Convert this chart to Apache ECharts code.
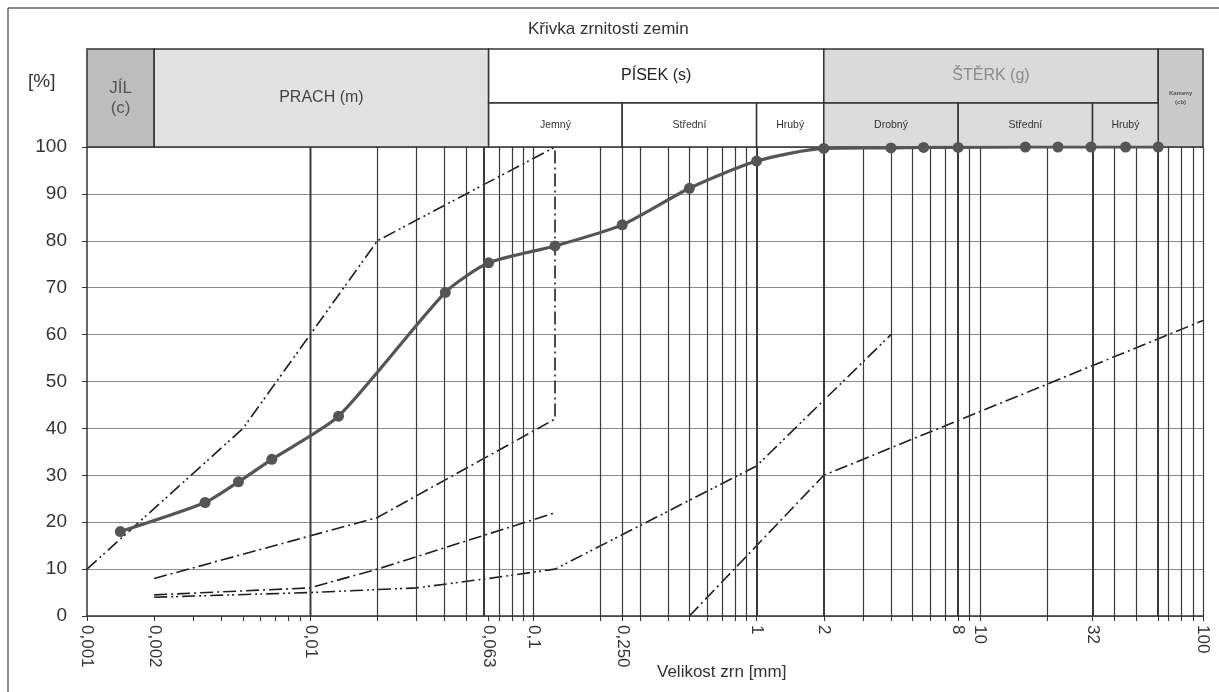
<!DOCTYPE html>
<html><head><meta charset="utf-8">
<script src="https://cdn.jsdelivr.net/npm/echarts@6/dist/echarts.min.js"></script>
<style>html,body{margin:0;padding:0;background:#fff}#c{width:1219px;height:692px}</style>
</head><body><div id="c"></div>
<script>
// ---------------- data ----------------
// measured grading curve
const grainSize = [0.00141, 0.00338, 0.00477, 0.00673, 0.0134, 0.0403, 0.063, 0.125, 0.25, 0.5, 1, 2, 4, 5.6, 8, 16, 22.4, 31.5, 45, 63];
const passing   = [18.0, 24.2, 28.6, 33.4, 42.6, 69.0, 75.3, 78.9, 83.4, 91.2, 97.0, 99.7, 99.8, 99.9, 99.9, 100, 100, 100, 100, 100];
// limit (envelope) curves
const limA_x = [0.001, 0.005, 0.02, 0.125];
const limA_y = [10, 40, 80, 100];
const limB_x = [0.002, 0.02, 0.125, 0.125];
const limB_y = [8, 21, 42, 100];
const limD_x = [0.002, 0.01, 0.02, 0.125];
const limD_y = [4.5, 6, 10, 22];
const limE_x = [0.002, 0.01, 0.03, 0.063, 0.125, 1, 4];
const limE_y = [4, 5, 6, 8, 10, 32, 60];
const limF_x = [0.5, 2, 100];
const limF_y = [0, 30, 63];
// axis labels
const xLabelValues = [0.001, 0.002, 0.01, 0.063, 0.1, 0.25, 1, 2, 8, 10, 32, 100];
const xLabelTexts  = ['0,001', '0,002', '0,01', '0,063', '0,1', '0,250', '1', '2', '8', '10', '32', '100'];
// soil fraction header
const zoneNames = ['JÍL\n(c)', 'PRACH (m)', 'PÍSEK (s)', 'ŠTĚRK (g)', 'Kameny\n(cb)'];
const zoneFrom  = [0.001, 0.002, 0.063, 2, 63];
const zoneTo    = [0.002, 0.063, 2, 63, 100];
const subNames  = ['Jemný', 'Střední', 'Hrubý', 'Drobný', 'Střední', 'Hrubý'];
const subFrom   = [0.063, 0.25, 1, 2, 8, 32];
const subTo     = [0.25, 1, 2, 8, 32, 63];

// ---------------- chart ----------------
const FONT = '"Liberation Sans", Arial, sans-serif';
const gridVals = [];
for (let k = -3; k <= 1; k++) {
  for (let m = 1; m <= 9; m++) {
    let v = +(m * Math.pow(10, k)).toPrecision(6);
    if (k === -2 && m === 6) v = 0.063;
    if (k === 1 && m === 3) v = 32;
    if (k === 1 && m === 6) v = 63;
    gridVals.push(v);
  }
}
gridVals.push(0.25, 100);
const heavy = [0.002, 0.063, 1, 2, 8, 32, 63];

const zoneFill = ['#bdbdbd', '#e2e2e2', '#ffffff', '#dadada', '#cacaca'];
const zoneText = ['#555', '#444', '#222', '#8a8a8a', '#555'];
const zoneSize = [17, 16, 16, 16, 6];
const subFill  = ['#fff', '#fff', '#fff', '#dcdcdc', '#dcdcdc', '#dcdcdc'];

function pair(xs, ys) { return xs.map((x, i) => [x, ys[i]]); }
function limSeries(xs, ys, dash) {
  return { type: 'line', xAxisIndex: 0, yAxisIndex: 0, data: pair(xs, ys), symbol: 'none',
    smooth: false, silent: true, z: 3,
    lineStyle: { color: '#1e1e1e', width: 1.6, type: dash } };
}
const DASH_DOT = [13, 4, 2, 4];
const DASH_DOT_DOT = [13, 4, 2, 3, 2, 4];

const chart = echarts.init(document.getElementById('c'), null, { renderer: 'canvas' });
chart.setOption({
  animation: false,
  backgroundColor: '#fff',
  title: [
    { text: 'Křivka zrnitosti zemin', left: 528, top: 21, padding: 0,
      textStyle: { fontFamily: FONT, fontSize: 17, fontWeight: 'normal', color: '#333' } },
    { text: '[%]', left: 28, top: 72, padding: 0,
      textStyle: { fontFamily: FONT, fontSize: 19, fontWeight: 'normal', color: '#333' } },
    { text: 'Velikost zrn [mm]', left: 657, top: 664, padding: 0,
      textStyle: { fontFamily: FONT, fontSize: 17, fontWeight: 'normal', color: '#333' } }
  ],
  graphic: [
    { type: 'line', shape: { x1: 8, y1: 8, x2: 1219, y2: 8 }, style: { stroke: '#666', lineWidth: 1.5 } },
    { type: 'line', shape: { x1: 8, y1: 8, x2: 8, y2: 692 }, style: { stroke: '#666', lineWidth: 1.5 } }
  ],
  grid: [
    { left: 87, right: 16, top: 147, bottom: 76, containLabel: false },
    { left: 87, right: 16, top: 49, height: 98, containLabel: false }
  ],
  xAxis: [
    { type: 'log', logBase: 10, min: 0.001, max: 100, gridIndex: 0,
      axisLine: { show: true, lineStyle: { color: '#333', width: 1.5 } },
      axisTick: { show: true, inside: false, length: 5, customValues: gridVals, lineStyle: { color: '#333' } },
      splitLine: { show: false },
      axisLabel: { show: true, customValues: xLabelValues, rotate: -90, margin: 9,
        fontFamily: FONT, fontSize: 17, color: '#333',
        formatter: function (v) {
          let best = 0;
          xLabelValues.forEach((x, i) => { if (Math.abs(Math.log10(x) - Math.log10(v)) < Math.abs(Math.log10(xLabelValues[best]) - Math.log10(v))) best = i; });
          return xLabelTexts[best];
        } } },
    { type: 'log', logBase: 10, min: 0.001, max: 100, gridIndex: 1, show: false }
  ],
  yAxis: [
    { type: 'value', min: 0, max: 100, interval: 10, gridIndex: 0,
      axisLine: { show: true, lineStyle: { color: '#333', width: 1.5 } },
      axisTick: { show: true, length: 5, lineStyle: { color: '#333' } },
      axisLabel: { margin: 20, fontFamily: FONT, fontSize: 19, color: '#333' },
      splitLine: { show: true, lineStyle: { color: '#8c8c8c', width: 1.2 } } },
    { type: 'value', min: 0, max: 100, gridIndex: 1, show: false }
  ],
  series: [
    { type: 'line', xAxisIndex: 0, yAxisIndex: 0, data: [[0.001, 0]], symbol: 'none', silent: true, z: 1,
      lineStyle: { opacity: 0 },
      markLine: { silent: true, symbol: ['none', 'none'], label: { show: false }, animation: false,
        data: gridVals.map(v => ({ xAxis: v, lineStyle: { color: '#3a3a3a', type: 'solid', width: heavy.includes(v) ? 2 : 1.2 } })) } },
    { type: 'custom', xAxisIndex: 1, yAxisIndex: 1, silent: true, z: 5,
      data: zoneFrom.map((f, i) => [f, zoneTo[i]]), encode: { x: [0, 1] },
      renderItem: function (params, api) {
        const i = params.dataIndex;
        const split = (i === 2 || i === 3);
        const p0 = api.coord([zoneFrom[i], split ? 45 : 0]);
        const p1 = api.coord([zoneTo[i], 100]);
        return { type: 'group', children: [
          { type: 'rect', shape: { x: p0[0], y: p1[1], width: p1[0] - p0[0], height: p0[1] - p1[1] },
            style: { fill: zoneFill[i], stroke: '#333', lineWidth: 1.5 } },
          { type: 'text', style: { text: zoneNames[i], x: (p0[0] + p1[0]) / 2, y: (p0[1] + p1[1]) / 2,
            align: 'center', verticalAlign: 'middle', fill: zoneText[i],
            fontSize: zoneSize[i], fontFamily: FONT, fontWeight: i === 4 ? 'bold' : 'normal', lineHeight: zoneSize[i] + 3 } }
        ] };
      } },
    { type: 'custom', xAxisIndex: 1, yAxisIndex: 1, silent: true, z: 5,
      data: subFrom.map((f, i) => [f, subTo[i]]), encode: { x: [0, 1] },
      renderItem: function (params, api) {
        const i = params.dataIndex;
        const p0 = api.coord([subFrom[i], 0]);
        const p1 = api.coord([subTo[i], 45]);
        return { type: 'group', children: [
          { type: 'rect', shape: { x: p0[0], y: p1[1], width: p1[0] - p0[0], height: p0[1] - p1[1] },
            style: { fill: subFill[i], stroke: '#333', lineWidth: 1.5 } },
          { type: 'text', style: { text: subNames[i], x: (p0[0] + p1[0]) / 2, y: (p0[1] + p1[1]) / 2,
            align: 'center', verticalAlign: 'middle', fill: '#333', fontSize: 10.5, fontFamily: FONT } }
        ] };
      } },
    limSeries(limA_x, limA_y, DASH_DOT_DOT),
    limSeries(limB_x, limB_y, DASH_DOT),
    limSeries(limD_x, limD_y, DASH_DOT),
    limSeries(limE_x, limE_y, DASH_DOT_DOT),
    limSeries(limF_x, limF_y, DASH_DOT),
    { type: 'line', xAxisIndex: 0, yAxisIndex: 0, data: pair(grainSize, passing), z: 6,
      smooth: 0.22, symbol: 'circle', symbolSize: 11, showAllSymbol: true,
      itemStyle: { color: '#555' }, lineStyle: { color: '#555', width: 3.2 } }
  ]
});
</script></body></html>
